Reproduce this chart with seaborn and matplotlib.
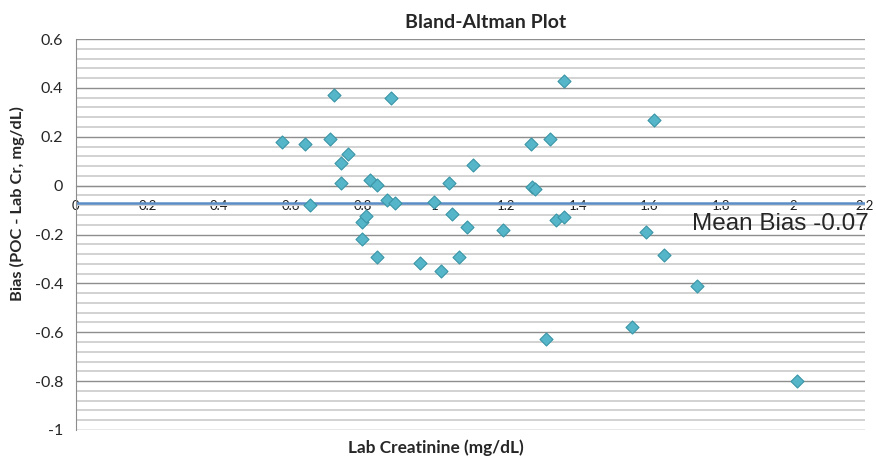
import numpy as np
import pandas as pd
import matplotlib
matplotlib.use("Agg")
import matplotlib.pyplot as plt
from matplotlib.ticker import MultipleLocator
import seaborn as sns

# ── Data ───────────────────────────────────────────────────────────────────────
LAB_CR = [0.576, 0.639, 0.652, 0.710, 0.721, 0.739, 0.739, 0.760, 0.799, 0.799,
          0.809, 0.819, 0.839, 0.840, 0.867, 0.880, 0.891, 0.959, 0.999, 1.019,
          1.041, 1.049, 1.069, 1.091, 1.108, 1.190, 1.270, 1.272, 1.281, 1.310,
          1.321, 1.339, 1.360, 1.360, 1.550, 1.590, 1.612, 1.641, 1.731, 2.011]
BIAS = [0.180, 0.171, -0.080, 0.190, 0.369, 0.093, 0.012, 0.131, -0.150, -0.220,
        -0.125, 0.023, -0.291, 0.001, -0.060, 0.360, -0.070, -0.318, -0.067, -0.350,
        0.012, -0.118, -0.291, -0.170, 0.083, -0.180, 0.171, -0.007, -0.012, -0.629,
        0.190, -0.139, -0.130, 0.429, -0.580, -0.189, 0.268, -0.282, -0.411, -0.799]
MEAN_BIAS = -0.07
X_TICKS = [0, 0.2, 0.4, 0.6, 0.8, 1, 1.2, 1.4, 1.6, 1.8, 2, 2.2]
Y_TICKS = [0.6, 0.4, 0.2, 0, -0.2, -0.4, -0.6, -0.8, -1]

df = pd.DataFrame({"lab": LAB_CR, "bias": BIAS})

# ── Style ──────────────────────────────────────────────────────────────────────
sns.set_style("white")
plt.rcParams["font.family"] = ["Lato", "DejaVu Sans"]

fig = plt.figure(figsize=(8.76, 4.59), dpi=100)
ax = fig.add_axes([0.0866, 0.0632, 0.9005, 0.8518])

ax.set_xlim(0, 2.2)
ax.set_ylim(-1, 0.6)

# gridlines: light minor every 0.04, darker major every 0.2
ax.yaxis.set_major_locator(MultipleLocator(0.2))
ax.yaxis.set_minor_locator(MultipleLocator(0.04))
ax.grid(which="minor", axis="y", color="#d2d2d2", lw=1.4, zorder=0)
ax.grid(which="major", axis="y", color="#8e8e8e", lw=1.0, zorder=0)
ax.grid(False, axis="x")
ax.set_axisbelow(True)

# mean bias line
ax.axhline(MEAN_BIAS, color="#5B8DC8", lw=1.8, zorder=1.5)

sns.scatterplot(data=df, x="lab", y="bias", ax=ax, marker="D", s=44,
                color="#55B5C9", edgecolor="#3A95A6", linewidth=0.8,
                zorder=3, legend=False)

# axes: x-axis crosses at 0, like Excel
ax.spines["top"].set_visible(False)
ax.spines["right"].set_visible(False)
ax.spines["left"].set_color("#8c8c8c")
ax.spines["bottom"].set_position(("data", 0))
ax.spines["bottom"].set_color("#8c8c8c")

ax.set_xticks(X_TICKS)
ax.set_xticklabels([f"{t:g}" for t in X_TICKS])
ax.set_yticks(Y_TICKS)
ax.set_yticklabels([f"{t:g}" for t in Y_TICKS])
ax.tick_params(axis="x", which="major", direction="out", length=4, color="#8c8c8c",
               labelsize=9.5, pad=6, labelcolor="#1a1a1a")
ax.tick_params(axis="y", which="major", direction="out", length=5, color="#8c8c8c",
               labelsize=11.5, pad=4)
ax.tick_params(axis="y", which="minor", direction="out", length=3, color="#b0b0b0")

ax.set_xlabel("")
ax.set_ylabel("")

ax.text(1.718, -0.182, f"Mean Bias {MEAN_BIAS:g}", fontsize=17.5,
        family=["Liberation Sans", "DejaVu Sans"], va="baseline", ha="left",
        clip_on=False, zorder=5)

fig.text(0.554, 0.9505, "Bland-Altman Plot", fontsize=14, fontweight="bold",
         ha="center", va="center")
fig.text(0.4977, 0.024, "Lab Creatinine (mg/dL)", fontsize=12.4,
         fontweight="bold", ha="center", va="center")
fig.text(0.0205, 0.5556, "Bias (POC - Lab Cr, mg/dL)", fontsize=11.8,
         fontweight="bold", ha="center", va="center", rotation=90)

fig.savefig("out.png", dpi=100)
